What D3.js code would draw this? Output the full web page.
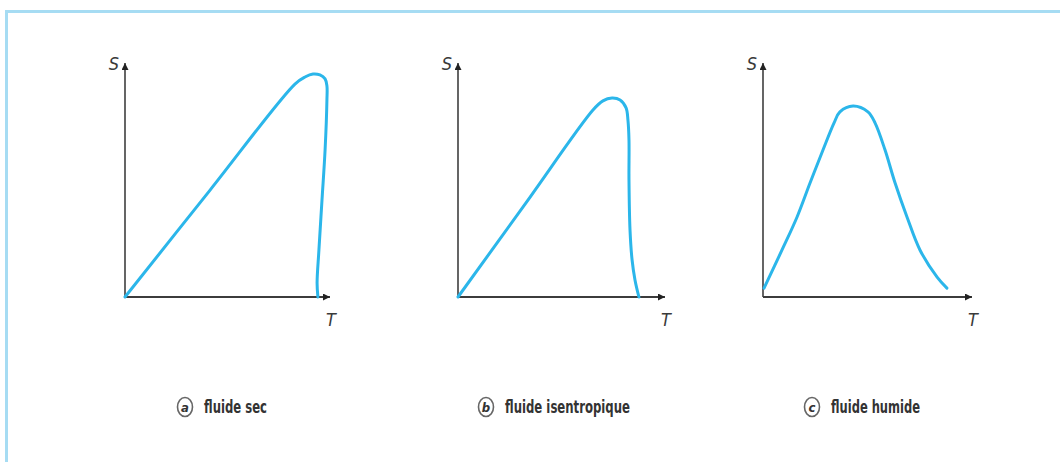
<!DOCTYPE html>
<html>
<head>
<meta charset="utf-8">
<script src="https://cdn.jsdelivr.net/npm/d3@7"></script>
<style>
  html, body { margin: 0; padding: 0; background: #fff; }
  svg { display: block; }
</style>
</head>
<body>
<svg id="chart" width="1060" height="462"></svg>
<script>
// Three schematic S–T saturation curves (arbitrary units, 0–100 on both axes)
const panelIds = ["a", "b", "c"];
const panelTitles = ["fluide sec", "fluide isentropique", "fluide humide"];
const axisLabelX = "T";
const axisLabelY = "S";

// Dry fluid: straight rise, rounded top, near-vertical fall leaning back
const curveSec = [
  [0, 0], [41.5, 45.7], [82.9, 91.0], [87.8, 94.0], [91.7, 95.3],
  [95.1, 94.9], [97.6, 93.2], [98.5, 90.2], [98.5, 84.2], [97.6, 62.8],
  [96.1, 41.5], [94.6, 20.1], [93.7, 6.0], [94.1, 0]
];
// Isentropic fluid: rise, rounded top, vertical fall
const curveIsentropique = [
  [0, 0], [32.4, 39.7], [65.2, 79.9], [70.0, 83.8], [74.4, 85.0],
  [78.3, 84.2], [81.2, 80.8], [82.1, 75.6], [82.6, 67.1], [82.6, 50.0],
  [83.1, 28.6], [84.1, 15.8], [85.5, 7.3], [87.4, 0]
];
// Wet fluid: bell-shaped curve
const curveHumide = [
  [0.5, 3.8], [9.1, 20.1], [16.3, 34.2], [22.5, 48.7], [28.7, 62.8],
  [34.0, 74.4], [36.8, 79.1], [43.1, 81.6], [50.2, 79.1], [53.6, 74.4],
  [58.4, 62.8], [63.2, 48.7], [68.9, 34.2], [75.1, 20.1], [83.3, 8.5],
  [88.0, 3.8]
];
const curves = [curveSec, curveIsentropique, curveHumide];

// Plot frames: origin and extent of each panel's axes, caption placement
const frames = [
  { x0: 125, x1: 330, y0: 297, y1: 63, cap: 185, capW: 63 },
  { x0: 458, x1: 665, y0: 297, y1: 63, cap: 486, capW: 125 },
  { x0: 763, x1: 972, y0: 297, y1: 63, cap: 812, capW: 89 }
];

const svg = d3.select("#chart");
const axisColor = "#3c3c3c";
const curveColor = "#2bb6ea";
const textFont = "'DejaVu Sans Condensed', 'Liberation Sans', sans-serif";

// Light-blue frame (top and left edges)
svg.append("path")
  .attr("d", "M6.5,462 L6.5,11.5 L1060,11.5")
  .attr("fill", "none")
  .attr("stroke", "#a6dcf3")
  .attr("stroke-width", 3);

const defs = svg.append("defs");
defs.append("marker")
  .attr("id", "arrow")
  .attr("viewBox", "0 0 10 10")
  .attr("refX", 10).attr("refY", 5)
  .attr("markerWidth", 11).attr("markerHeight", 7)
  .attr("markerUnits", "userSpaceOnUse")
  .attr("orient", "auto")
  .append("path")
  .attr("d", "M0,0 L10,5 L0,10 Z")
  .attr("fill", "#222");

frames.forEach((f, i) => {
  const x = d3.scaleLinear().domain([0, 100]).range([f.x0, f.x1]);
  const y = d3.scaleLinear().domain([0, 100]).range([f.y0, f.y1]);
  const g = svg.append("g");

  // Axes with arrowheads
  g.append("line")
    .attr("x1", x(0)).attr("y1", y(0)).attr("x2", x(0)).attr("y2", y(100))
    .attr("stroke", "#555").attr("stroke-width", 1.8)
    .attr("marker-end", "url(#arrow)");
  g.append("line")
    .attr("x1", x(0)).attr("y1", y(0)).attr("x2", x(100)).attr("y2", y(0))
    .attr("stroke", axisColor).attr("stroke-width", 2)
    .attr("marker-end", "url(#arrow)");

  g.append("text")
    .attr("x", x(0) - 11).attr("y", y(100) + 7)
    .attr("text-anchor", "middle")
    .attr("font-family", textFont)
    .attr("font-style", "italic")
    .attr("font-size", 18)
    .attr("fill", "#3a3a3a")
    .text(axisLabelY);
  g.append("text")
    .attr("x", x(100) + 1).attr("y", y(0) + 29)
    .attr("text-anchor", "middle")
    .attr("font-family", textFont)
    .attr("font-style", "italic")
    .attr("font-size", 18)
    .attr("fill", "#3a3a3a")
    .text(axisLabelX);

  // Saturation curve
  const line = d3.line()
    .x(d => x(d[0]))
    .y(d => y(d[1]))
    .curve(d3.curveCatmullRom.alpha(0.5));
  g.append("path")
    .datum(curves[i])
    .attr("d", line)
    .attr("fill", "none")
    .attr("stroke", curveColor)
    .attr("stroke-width", 3)
    .attr("stroke-linecap", "round")
    .attr("stroke-linejoin", "round");

  // Caption: circled letter + title
  const cap = svg.append("g").attr("transform", `translate(${f.cap},407)`);
  cap.append("ellipse")
    .attr("rx", 7.5).attr("ry", 9.5)
    .attr("fill", "none")
    .attr("stroke", "#666")
    .attr("stroke-width", 1.6);
  cap.append("text")
    .attr("x", 0).attr("y", 5)
    .attr("text-anchor", "middle")
    .attr("font-family", textFont)
    .attr("font-style", "italic")
    .attr("font-weight", "bold")
    .attr("font-size", 13)
    .attr("fill", "#333")
    .text(panelIds[i]);
  cap.append("text")
    .attr("x", 19).attr("y", 6)
    .attr("font-family", textFont)
    .attr("font-weight", "bold")
    .attr("font-size", 17)
    .attr("fill", "#333")
    .attr("textLength", f.capW)
    .attr("lengthAdjust", "spacingAndGlyphs")
    .text(panelTitles[i]);
});
</script>
</body>
</html>
